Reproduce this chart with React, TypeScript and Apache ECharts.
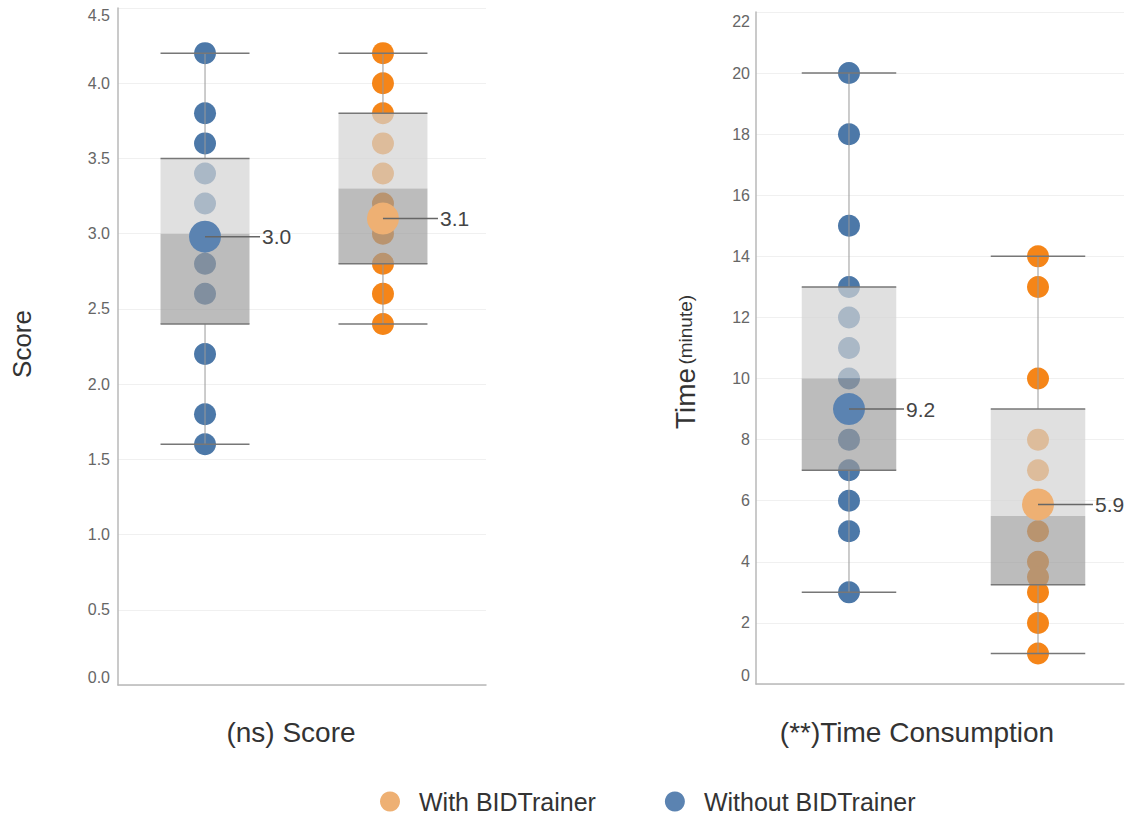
import React, { useEffect, useRef } from "react";
import * as echarts from "echarts";

const FONT = "'Liberation Sans', Arial, Helvetica, sans-serif";

// Category positions on the x value axis: 0 = Without BIDTrainer, 1 = With BIDTrainer
const groups = ["Without BIDTrainer", "With BIDTrainer"];

// Individual observations
const scoreWithout = [4.2, 3.8, 3.6, 3.4, 3.2, 3.0, 2.8, 2.6, 2.2, 1.8, 1.6];
const scoreWith = [4.2, 4.0, 3.8, 3.6, 3.4, 3.2, 3.0, 2.8, 2.6, 2.4];
const timeWithout = [20, 18, 15, 13, 12, 11, 10, 8, 7, 6, 5, 3];
const timeWith = [14, 13, 10, 8, 7, 5, 4, 3.5, 3, 2, 1];

// Box stats: [min, q1, median, q3, max]
const scoreBoxWithout = [1.6, 2.4, 3.0, 3.5, 4.2];
const scoreBoxWith = [2.4, 2.8, 3.3, 3.8, 4.2];
const timeBoxWithout = [3, 7, 10, 13, 20];
const timeBoxWith = [1, 3.25, 5.5, 9, 14];

// Means (drawn position) and their printed labels
const scoreMeans = [2.98, 3.1];
const scoreMeanLabels = ["3.0", "3.1"];
const timeMeans = [9.0, 5.88];
const timeMeanLabels = ["9.2", "5.9"];

// Axis ticks
const scoreTicks = { min: 0, max: 4.5, interval: 0.5 };
const timeTicks = { min: 0, max: 22, interval: 2 };

const BLUE = "#4c78a8";
const ORANGE = "#f58518";
const BLUE_MEAN = "#5b83b1";
const ORANGE_MEAN = "#eeb073";

function boxRender(params: any, api: any) {
  const x = api.value(0);
  const mn = api.value(1);
  const q1 = api.value(2);
  const md = api.value(3);
  const q3 = api.value(4);
  const mx = api.value(5);
  const pMin = api.coord([x, mn]);
  const pQ1 = api.coord([x, q1]);
  const pMd = api.coord([x, md]);
  const pQ3 = api.coord([x, q3]);
  const pMax = api.coord([x, mx]);
  const hw = api.size([1, 0])[0] * 0.25;
  const cx = pMd[0];
  const edge = { stroke: "#777", lineWidth: 1.5 };
  const whisk = { stroke: "#999", lineWidth: 1 };
  return {
    type: "group",
    children: [
      {
        type: "rect",
        shape: { x: cx - hw, y: pQ3[1], width: hw * 2, height: pMd[1] - pQ3[1] },
        style: { fill: "rgb(211,211,211)", opacity: 0.7 },
      },
      {
        type: "rect",
        shape: { x: cx - hw, y: pMd[1], width: hw * 2, height: pQ1[1] - pMd[1] },
        style: { fill: "rgb(155,155,155)", opacity: 0.67 },
      },
      { type: "line", shape: { x1: cx, y1: pMax[1], x2: cx, y2: pQ3[1] }, style: whisk },
      { type: "line", shape: { x1: cx, y1: pQ1[1], x2: cx, y2: pMin[1] }, style: whisk },
      { type: "line", shape: { x1: cx - hw, y1: pQ3[1], x2: cx + hw, y2: pQ3[1] }, style: edge },
      { type: "line", shape: { x1: cx - hw, y1: pQ1[1], x2: cx + hw, y2: pQ1[1] }, style: edge },
      { type: "line", shape: { x1: cx - hw, y1: pMax[1], x2: cx + hw, y2: pMax[1] }, style: edge },
      { type: "line", shape: { x1: cx - hw, y1: pMin[1], x2: cx + hw, y2: pMin[1] }, style: edge },
    ],
  };
}

function meanLabelRender(labels: string[]) {
  return (params: any, api: any) => {
    const x = api.value(0);
    const y = api.value(1);
    const p = api.coord([x, y]);
    return {
      type: "group",
      children: [
        {
          type: "line",
          shape: { x1: p[0], y1: p[1], x2: p[0] + 55, y2: p[1] },
          style: { stroke: "#666", lineWidth: 1.5 },
        },
        {
          type: "text",
          x: p[0] + 57,
          y: p[1],
          style: {
            text: labels[params.dataIndex],
            fill: "#444",
            fontSize: 21,
            fontFamily: FONT,
            verticalAlign: "middle",
            align: "left",
          },
        },
      ],
    };
  };
}

function yLabelFormatter(min: number, max: number, digits: number) {
  return (v: number) => {
    const s = v.toFixed(digits);
    if (Math.abs(v - min) < 1e-9) return `{b|${s}}`;
    if (Math.abs(v - max) < 1e-9) return `{t|${s}}`;
    return `{n|${s}}`;
  };
}

function richLabels(pad: number) {
  const base = { color: "#666", fontSize: 16, fontFamily: FONT };
  return {
    n: { ...base },
    t: { ...base, padding: [pad, 0, 0, 0] },
    b: { ...base, padding: [0, 0, pad, 0] },
  };
}

export default function App() {
  const ref = useRef<HTMLDivElement>(null);
  useEffect(() => {
    if (!ref.current) return;
    const chart = echarts.init(ref.current, undefined, { renderer: "svg" });

    const axisLine = { show: true, onZero: false, lineStyle: { color: "#b8b8b8", width: 1.5 } };

    const option: any = {
      animation: false,
      backgroundColor: "#ffffff",
      textStyle: { fontFamily: FONT },
      grid: [
        { left: 118, top: 8, width: 368, height: 677 },
        { left: 756, top: 12, width: 368, height: 672 },
      ],
      xAxis: [
        {
          type: "value", gridIndex: 0, min: -0.489, max: 1.579,
          axisLine, axisTick: { show: false }, axisLabel: { show: false }, splitLine: { show: false },
        },
        {
          type: "value", gridIndex: 1, min: -0.492, max: 1.455,
          axisLine, axisTick: { show: false }, axisLabel: { show: false }, splitLine: { show: false },
        },
      ],
      yAxis: [
        {
          type: "value", gridIndex: 0, ...scoreTicks,
          axisLine, axisTick: { show: false },
          splitLine: { show: true, lineStyle: { color: "#f0f0f0", width: 1 } },
          axisLabel: {
            margin: 8,
            formatter: yLabelFormatter(scoreTicks.min, scoreTicks.max, 1),
            rich: richLabels(15),
          },
        },
        {
          type: "value", gridIndex: 1, ...timeTicks,
          axisLine, axisTick: { show: false },
          splitLine: { show: true, lineStyle: { color: "#f0f0f0", width: 1 } },
          axisLabel: {
            margin: 6,
            formatter: yLabelFormatter(timeTicks.min, timeTicks.max, 0),
            rich: richLabels(18),
          },
        },
      ],
      legend: {
        data: ["With BIDTrainer", "Without BIDTrainer"],
        left: 380,
        top: 789,
        padding: 0,
        icon: "circle",
        itemWidth: 20,
        itemHeight: 20,
        itemGap: 69,
        selectedMode: false,
        textStyle: { fontSize: 25, color: "#333", fontFamily: FONT, padding: [0, 0, 0, 14] },
      },
      series: [
        // dots
        {
          type: "scatter", name: "dotsScoreWithout", xAxisIndex: 0, yAxisIndex: 0, z: 2,
          symbolSize: 22, itemStyle: { color: BLUE, opacity: 1 },
          data: scoreWithout.map((v) => [0, v]),
        },
        {
          type: "scatter", name: "dotsScoreWith", xAxisIndex: 0, yAxisIndex: 0, z: 2,
          symbolSize: 22, itemStyle: { color: ORANGE, opacity: 1 },
          data: scoreWith.map((v) => [1, v]),
        },
        {
          type: "scatter", name: "dotsTimeWithout", xAxisIndex: 1, yAxisIndex: 1, z: 2,
          symbolSize: 22, itemStyle: { color: BLUE, opacity: 1 },
          data: timeWithout.map((v) => [0, v]),
        },
        {
          type: "scatter", name: "dotsTimeWith", xAxisIndex: 1, yAxisIndex: 1, z: 2,
          symbolSize: 22, itemStyle: { color: ORANGE, opacity: 1 },
          data: timeWith.map((v) => [1, v]),
        },
        // boxes
        {
          type: "custom", name: "boxScore", xAxisIndex: 0, yAxisIndex: 0, z: 3,
          renderItem: boxRender,
          data: [[0, ...scoreBoxWithout], [1, ...scoreBoxWith]],
        },
        {
          type: "custom", name: "boxTime", xAxisIndex: 1, yAxisIndex: 1, z: 3,
          renderItem: boxRender,
          data: [[0, ...timeBoxWithout], [1, ...timeBoxWith]],
        },
        // means
        {
          type: "scatter", name: groups[0], xAxisIndex: 0, yAxisIndex: 0, z: 4,
          symbolSize: 32, itemStyle: { color: BLUE_MEAN, opacity: 1 },
          data: [[0, scoreMeans[0]]],
        },
        {
          type: "scatter", name: groups[1], xAxisIndex: 0, yAxisIndex: 0, z: 4,
          symbolSize: 32, itemStyle: { color: ORANGE_MEAN, opacity: 1 },
          data: [[1, scoreMeans[1]]],
        },
        {
          type: "scatter", name: groups[0], xAxisIndex: 1, yAxisIndex: 1, z: 4,
          symbolSize: 32, itemStyle: { color: BLUE_MEAN, opacity: 1 },
          data: [[0, timeMeans[0]]],
        },
        {
          type: "scatter", name: groups[1], xAxisIndex: 1, yAxisIndex: 1, z: 4,
          symbolSize: 32, itemStyle: { color: ORANGE_MEAN, opacity: 1 },
          data: [[1, timeMeans[1]]],
        },
        // mean labels
        {
          type: "custom", name: "meanLabelScore", xAxisIndex: 0, yAxisIndex: 0, z: 5,
          renderItem: meanLabelRender(scoreMeanLabels),
          data: scoreMeans.map((m, i) => [i, m]),
        },
        {
          type: "custom", name: "meanLabelTime", xAxisIndex: 1, yAxisIndex: 1, z: 5,
          renderItem: meanLabelRender(timeMeanLabels),
          data: timeMeans.map((m, i) => [i, m]),
        },
      ],
      graphic: [
        {
          type: "text", x: 22, y: 344, rotation: Math.PI / 2,
          style: {
            text: "Score", fill: "#333", fontSize: 26, fontFamily: FONT,
            align: "center", verticalAlign: "middle",
          },
        },
        {
          type: "text", x: 685, y: 362, rotation: Math.PI / 2,
          style: {
            text: "{a|Time} {b|(minute)}",
            align: "center", verticalAlign: "middle",
            rich: {
              a: { fill: "#333", fontSize: 28, fontFamily: FONT },
              b: { fill: "#333", fontSize: 19, fontFamily: FONT },
            },
          },
        },
        {
          type: "text", x: 291, y: 732,
          style: {
            text: "(ns) Score", fill: "#333", fontSize: 28, fontFamily: FONT,
            align: "center", verticalAlign: "middle",
          },
        },
        {
          type: "text", x: 917, y: 732,
          style: {
            text: "(**)Time Consumption", fill: "#333", fontSize: 28, fontFamily: FONT,
            align: "center", verticalAlign: "middle",
          },
        },
      ],
    };
    chart.setOption(option);
    return () => chart.dispose();
  }, []);
  return (
    <div
      ref={ref}
      style={{ position: "fixed", left: 0, top: 0, width: 1129, height: 817, background: "#fff" }}
    />
  );
}
